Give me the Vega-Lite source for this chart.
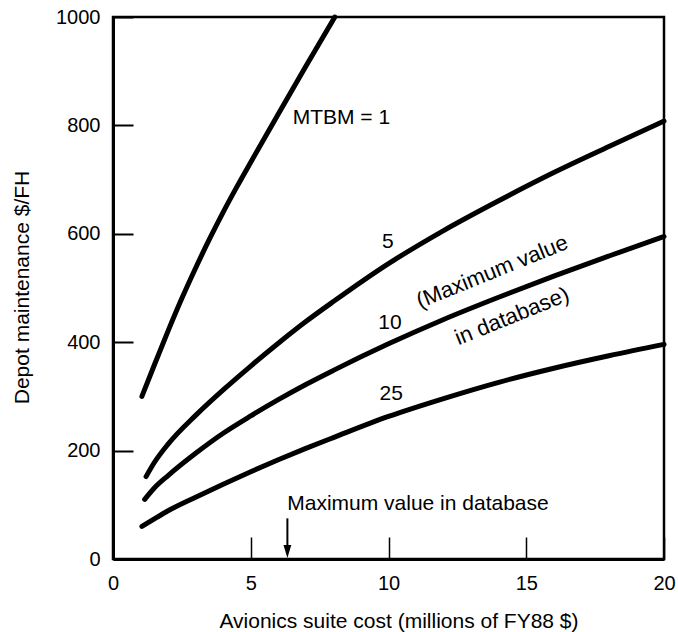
{
  "$schema": "https://vega.github.io/schema/vega-lite/v6.json",
  "width": 551,
  "height": 542,
  "autosize": {"type": "none"},
  "padding": {"left": 113, "top": 17, "right": 14, "bottom": 73},
  "background": "white",
  "config": {
    "view": {"stroke": "black", "strokeWidth": 2.5},
    "font": "Liberation Sans",
    "axis": {
      "domainColor": "black", "domainWidth": 3,
      "tickColor": "black", "tickWidth": 1.5,
      "labelColor": "black", "titleColor": "black",
      "labelFont": "Liberation Sans", "titleFont": "Liberation Sans",
      "labelFontSize": 20, "titleFontSize": 21, "titleFontWeight": "normal",
      "grid": false
    }
  },
  "datasets": {
    "curves": [
      {"mtbm": "1", "cost": 1.05, "value": 300}, {"mtbm": "1", "cost": 1.5, "value": 358}, {"mtbm": "1", "cost": 2, "value": 421},
      {"mtbm": "1", "cost": 2.5, "value": 481}, {"mtbm": "1", "cost": 3, "value": 537}, {"mtbm": "1", "cost": 3.5, "value": 590},
      {"mtbm": "1", "cost": 4, "value": 640}, {"mtbm": "1", "cost": 4.5, "value": 687}, {"mtbm": "1", "cost": 5, "value": 732},
      {"mtbm": "1", "cost": 6, "value": 821}, {"mtbm": "1", "cost": 7, "value": 909}, {"mtbm": "1", "cost": 8.05, "value": 1000},
      {"mtbm": "5", "cost": 1.2, "value": 152}, {"mtbm": "5", "cost": 1.5, "value": 178}, {"mtbm": "5", "cost": 2, "value": 212},
      {"mtbm": "5", "cost": 3, "value": 265}, {"mtbm": "5", "cost": 4, "value": 312}, {"mtbm": "5", "cost": 5, "value": 356},
      {"mtbm": "5", "cost": 6, "value": 398}, {"mtbm": "5", "cost": 7, "value": 438}, {"mtbm": "5", "cost": 8, "value": 475},
      {"mtbm": "5", "cost": 10, "value": 545}, {"mtbm": "5", "cost": 12, "value": 606}, {"mtbm": "5", "cost": 14, "value": 661},
      {"mtbm": "5", "cost": 16, "value": 713}, {"mtbm": "5", "cost": 18, "value": 761}, {"mtbm": "5", "cost": 20, "value": 808},
      {"mtbm": "10", "cost": 1.15, "value": 110}, {"mtbm": "10", "cost": 1.5, "value": 131}, {"mtbm": "10", "cost": 2, "value": 154},
      {"mtbm": "10", "cost": 3, "value": 195}, {"mtbm": "10", "cost": 4, "value": 232}, {"mtbm": "10", "cost": 5, "value": 264},
      {"mtbm": "10", "cost": 6, "value": 294}, {"mtbm": "10", "cost": 7, "value": 322}, {"mtbm": "10", "cost": 8, "value": 348},
      {"mtbm": "10", "cost": 10, "value": 397}, {"mtbm": "10", "cost": 12, "value": 442}, {"mtbm": "10", "cost": 14, "value": 483},
      {"mtbm": "10", "cost": 16, "value": 522}, {"mtbm": "10", "cost": 18, "value": 559}, {"mtbm": "10", "cost": 20, "value": 595},
      {"mtbm": "25", "cost": 1.05, "value": 60}, {"mtbm": "25", "cost": 1.5, "value": 74}, {"mtbm": "25", "cost": 2, "value": 89},
      {"mtbm": "25", "cost": 3, "value": 114}, {"mtbm": "25", "cost": 4, "value": 138}, {"mtbm": "25", "cost": 5, "value": 161},
      {"mtbm": "25", "cost": 6, "value": 183}, {"mtbm": "25", "cost": 7, "value": 204}, {"mtbm": "25", "cost": 8, "value": 224},
      {"mtbm": "25", "cost": 10, "value": 263}, {"mtbm": "25", "cost": 12, "value": 296}, {"mtbm": "25", "cost": 14, "value": 326},
      {"mtbm": "25", "cost": 16, "value": 352}, {"mtbm": "25", "cost": 18, "value": 375}, {"mtbm": "25", "cost": 20, "value": 396}
    ],
    "labels": [
      {"label": "MTBM = 1", "cost": 8.29, "value": 813},
      {"label": "5", "cost": 9.98, "value": 584},
      {"label": "10", "cost": 10.05, "value": 435},
      {"label": "25", "cost": 10.1, "value": 305},
      {"label": "Maximum value in database", "cost": 11.07, "value": 101}
    ],
    "rotated": [
      {"label": "(Maximum value", "cost": 13.76, "value": 530},
      {"label": "in database)", "cost": 14.48, "value": 448}
    ],
    "arrow": [
      {"cost": 6.33, "top": 75, "tip": 14}
    ]
  },
  "encoding": {
    "x": {
      "field": "cost", "type": "quantitative",
      "scale": {"domain": [0, 20], "nice": false},
      "axis": {
        "title": "Avionics suite cost (millions of FY88 $)",
        "values": [0, 5, 10, 15, 20],
        "tickSize": -22, "labelPadding": 36, "labelFlush": false,
        "titleX": 285.5, "titleY": 68, "titleBaseline": "alphabetic"
      }
    },
    "y": {
      "field": "value", "type": "quantitative",
      "scale": {"domain": [0, 1000], "nice": false},
      "axis": {
        "title": "Depot maintenance $/FH",
        "values": [0, 200, 400, 600, 800, 1000],
        "format": "d",
        "tickSize": -20, "tickWidth": 2, "labelPadding": 33,
        "titleX": -91, "titleY": 270, "titleBaseline": "middle"
      }
    }
  },
  "layer": [
    {
      "data": {"name": "curves"},
      "mark": {"type": "line", "color": "black", "strokeWidth": 5, "strokeCap": "round", "strokeJoin": "round", "interpolate": "monotone"},
      "encoding": {"detail": {"field": "mtbm"}}
    },
    {
      "data": {"name": "labels"},
      "mark": {"type": "text", "color": "black", "fontSize": 21, "align": "center", "baseline": "middle", "font": "Liberation Sans"},
      "encoding": {"text": {"field": "label"}}
    },
    {
      "data": {"name": "rotated"},
      "mark": {"type": "text", "color": "black", "fontSize": 22, "align": "center", "baseline": "middle", "angle": 338, "font": "Liberation Sans"},
      "encoding": {"text": {"field": "label"}}
    },
    {
      "data": {"name": "arrow"},
      "mark": {"type": "rule", "color": "black", "strokeWidth": 2},
      "encoding": {"y": {"field": "top", "type": "quantitative"}, "y2": {"field": "tip"}}
    },
    {
      "data": {"name": "arrow"},
      "mark": {"type": "point", "shape": "M -0.6 -1 L 0.6 -1 L 0 1 Z", "size": 169, "filled": true, "color": "black", "opacity": 1},
      "encoding": {"y": {"field": "tip", "type": "quantitative"}}
    }
  ]
}
